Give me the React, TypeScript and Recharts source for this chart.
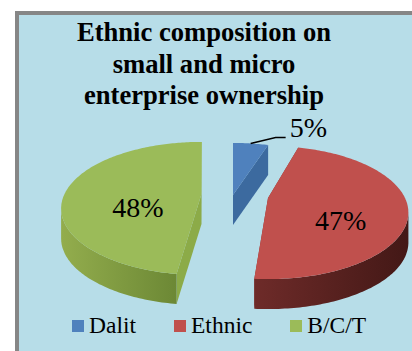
import { Cell, Legend, Pie, PieChart } from 'recharts'

const categories = ['Dalit', 'Ethnic', 'B/C/T']
const shares = [5, 47, 48]
const colors = ['#4f81bd', '#c0504d', '#9bbb59']
const tableData = categories.map((name, i) => ({ name, value: shares[i] }))

// per-slice explosion in screen pixels, and a small turn in degrees
const explodeX = [-1.5, 33.5, -33]
const explodeY = [-1, 2, -2]
const twist = [0, 2.5, -1]
const wallStops = [
  ['#3a669c', '#3a669c'],
  ['#6e2b29', '#431816'],
  ['#93ad4d', '#6c8835'],
]
const cutWall = ['#3c6a9f', '#8a2f2d', '#8cab48']

const SERIF = '"Liberation Serif", "Times New Roman", Times, serif'
const CX = 234.5
const CY = 196
const RADIUS = 137
const TILT = 0.463
const PERSPECTIVE = 0.218
const DEPTH = 30
const RAD = Math.PI / 180

// ground-plane point to screen, back of the pie comes out smaller
function project(angle: number, r: number, i: number) {
  const a = (angle + twist[i]) * RAD
  const px = Math.cos(a) * r
  const py = Math.sin(a) * r
  const s = 1 / (1 + PERSPECTIVE * py)
  return {
    x: CX + explodeX[i] + RADIUS * px * s,
    y: CY + explodeY[i] - RADIUS * TILT * py * s,
  }
}

const toPath = (pts: { x: number; y: number }[]) =>
  'M' + pts.map((p) => `${p.x.toFixed(1)},${p.y.toFixed(1)}`).join('L') + 'Z'
const drop = (p: { x: number; y: number }) => ({ x: p.x, y: p.y + DEPTH })

function Slice3D(props: any) {
  const { startAngle, endAngle, fill, index } = props
  const apex = project(0, 0, index)
  const arc: { x: number; y: number }[] = []
  const front: { x: number; y: number }[] = []
  for (let a = startAngle; a >= endAngle; a -= 1) {
    const p = project(a, 1, index)
    arc.push(p)
    if (Math.sin((a + twist[index]) * RAD) <= -PERSPECTIVE) front.push(p)
  }
  const first = arc[0]
  const last = arc[arc.length - 1]
  const gradId = `wall-${index}`
  return (
    <g>
      <defs>
        <linearGradient id={gradId} x1="0" x2="1" y1="0" y2="0">
          <stop offset="0%" stopColor={wallStops[index][0]} />
          <stop offset="100%" stopColor={wallStops[index][1]} />
        </linearGradient>
      </defs>
      <path d={toPath([first, apex, drop(apex), drop(first)])} fill={cutWall[index]} />
      <path d={toPath([last, apex, drop(apex), drop(last)])} fill={cutWall[index]} />
      {front.length > 1 && (
        <path d={toPath([...front, ...front.map(drop).reverse()])} fill={`url(#${gradId})`} />
      )}
      <path d={toPath([apex, ...arc])} fill={fill} />
    </g>
  )
}

function SliceLabel(props: any) {
  const { midAngle, value, index } = props
  const font = { fontFamily: SERIF, fontSize: 28, fill: '#000' }
  // small slice gets its label outside with a leader
  if (value < 10) {
    const p = project(midAngle, 1, index)
    const elbow = { x: p.x + 25, y: p.y - 6 }
    const end = { x: elbow.x + 10, y: elbow.y }
    return (
      <g>
        <polyline
          points={`${p.x},${p.y} ${elbow.x},${elbow.y} ${end.x},${end.y}`}
          fill="none"
          stroke="#000"
          strokeWidth={1.5}
        />
        <text x={end.x + 4} y={end.y} textAnchor="start" {...font}>
          {value}%
        </text>
      </g>
    )
  }
  const p = project(midAngle, 0.5, index)
  return (
    <text x={p.x + 4} y={p.y + DEPTH / 2 + 11} textAnchor="middle" {...font}>
      {value}%
    </text>
  )
}

function LegendRow({ payload }: any) {
  return (
    <div style={{ display: 'flex', gap: 38, fontFamily: SERIF, fontSize: 23.5, color: '#000' }}>
      {payload.map((item: any) => (
        <div key={item.value} style={{ display: 'flex', alignItems: 'center', gap: 5 }}>
          <span style={{ width: 12, height: 12, background: item.color, display: 'block' }} />
          {item.value}
        </div>
      ))}
    </div>
  )
}

export default function App() {
  return (
    <div style={{ position: 'absolute', left: 0, top: 0, width: 412, height: 351, background: '#fff', overflow: 'hidden' }}>
      <div
        style={{
          position: 'absolute',
          left: 15,
          top: 11,
          width: 420,
          height: 360,
          background: '#b7dde8',
          borderLeft: '4px solid #868686',
          borderTop: '4px solid #868686',
        }}
      />
      <div
        style={{
          position: 'absolute',
          left: 54,
          top: 17,
          width: 300,
          textAlign: 'center',
          fontFamily: SERIF,
          fontWeight: 'bold',
          fontSize: 26.6,
          lineHeight: '31.5px',
          color: '#000',
        }}
      >
        Ethnic composition on
        <br />
        small and micro
        <br />
        enterprise ownership
      </div>
      <div style={{ position: 'absolute', left: 0, top: 0 }}>
        <PieChart width={412} height={351}>
          <Pie
            data={tableData}
            dataKey="value"
            nameKey="name"
            cx={CX}
            cy={CY}
            outerRadius={RADIUS}
            startAngle={90}
            endAngle={-270}
            stroke="none"
            shape={Slice3D}
            label={SliceLabel}
            labelLine={false}
            isAnimationActive={false}
          >
            {tableData.map((_, i) => (
              <Cell key={i} fill={colors[i]} />
            ))}
          </Pie>
          <Legend
            content={LegendRow}
            itemSorter={null}
            wrapperStyle={{ position: 'absolute', left: 72, top: 312, width: 340 }}
          />
        </PieChart>
      </div>
    </div>
  )
}
